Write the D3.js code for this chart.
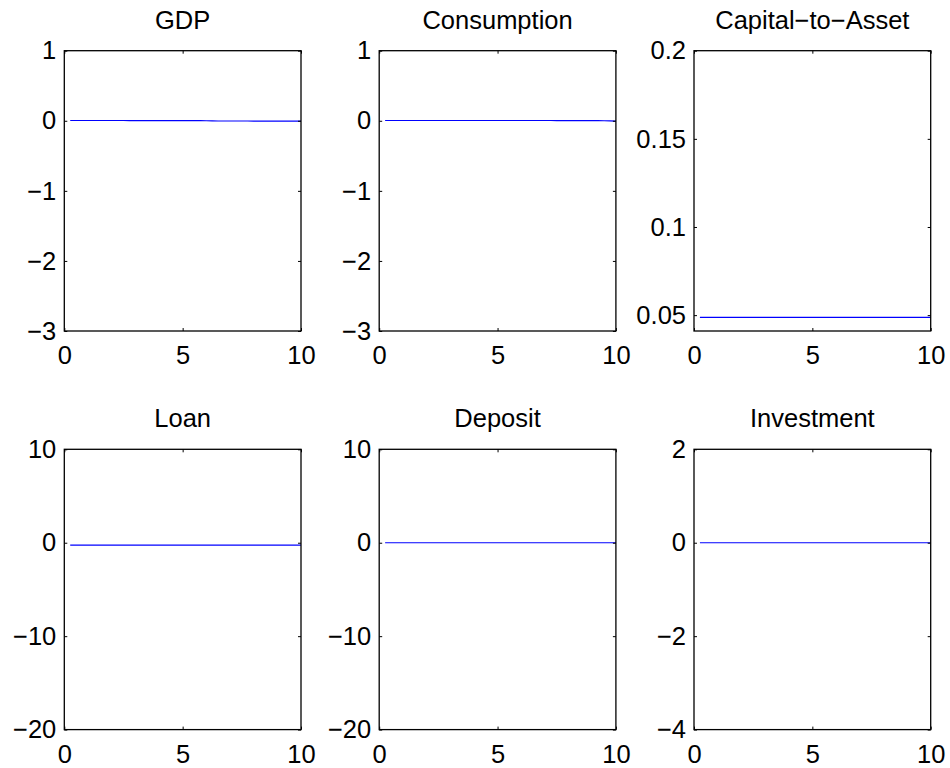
<!DOCTYPE html>
<html>
<head>
<meta charset="utf-8">
<script src="https://cdn.jsdelivr.net/npm/d3@7"></script>
<style>
html,body{margin:0;padding:0;background:#fff;}
svg{display:block;}
</style>
</head>
<body>
<svg id="chart" width="950" height="768"></svg>
<script>
// ---- data ----
const titles = ["GDP", "Consumption", "Capital\u2212to\u2212Asset", "Loan", "Deposit", "Investment"];
const periods = [0.25,0.5,0.75,1,1.25,1.5,1.75,2,2.25,2.5,2.75,3,3.25,3.5,3.75,4,4.25,4.5,4.75,5,
                 5.25,5.5,5.75,6,6.25,6.5,6.75,7,7.25,7.5,7.75,8,8.25,8.5,8.75,9,9.25,9.5,9.75,10];
const gdp = [0.004,0.004,0.004,0.004,0.004,0.004,0.004,0.004,0.004,0.004,0.003,0.003,0.003,0.003,0.003,0.003,0.003,0.003,0.002,0.002,
             0.002,0.002,0.001,0.0,-0.002,-0.003,-0.003,-0.003,-0.003,-0.003,-0.003,-0.004,-0.004,-0.004,-0.004,-0.004,-0.004,-0.004,-0.004,-0.005];
const consumption = [0.004,0.004,0.004,0.004,0.004,0.004,0.004,0.004,0.004,0.004,0.004,0.004,0.004,0.004,0.004,0.004,0.004,0.004,0.004,0.004,
             0.004,0.004,0.004,0.004,0.004,0.004,0.004,0.004,0.004,0.003,0.003,0.003,0.003,0.003,0.002,0.002,0.001,0.0,-0.002,-0.004];
const capitalToAsset = [0.0487,0.0487,0.0487,0.0487,0.0487,0.0487,0.0487,0.0487,0.0487,0.0487,0.0487,0.0487,0.0487,0.0487,0.0487,0.0487,0.0487,0.0487,0.0487,0.0487,
             0.0487,0.0487,0.0487,0.0487,0.0487,0.0487,0.0487,0.0487,0.0487,0.0487,0.0487,0.0487,0.0487,0.0487,0.0487,0.0487,0.0487,0.0487,0.0487,0.0487];
const loan = [-0.25,-0.25,-0.25,-0.25,-0.25,-0.25,-0.25,-0.25,-0.25,-0.25,-0.25,-0.25,-0.25,-0.25,-0.25,-0.25,-0.25,-0.25,-0.25,-0.25,
             -0.25,-0.25,-0.25,-0.25,-0.25,-0.25,-0.25,-0.25,-0.25,-0.25,-0.25,-0.25,-0.25,-0.25,-0.25,-0.25,-0.25,-0.25,-0.25,-0.25];
const deposit = [0,0,0,0,0,0,0,0,0,0,0,0,0,0,0,0,0,0,0,0,0,0,0,0,0,0,0,0,0,0,0,0,0,0,0,0,0,0,0,0];
const investment = [0,0,0,0,0,0,0,0,0,0,0,0,0,0,0,0,0,0,0,0,0,0,0,0,0,0,0,0,0,0,0,0,0,0,0,0,0,0,0,0];
const series = [gdp, consumption, capitalToAsset, loan, deposit, investment];
const yDomains = [[-3,1],[-3,1],[0.041,0.2],[-20,10],[-20,10],[-4,2]];
const yTicks = [[-3,-2,-1,0,1],[-3,-2,-1,0,1],[0.05,0.1,0.15,0.2],[-20,-10,0,10],[-20,-10,0,10],[-4,-2,0,2]];
const xDomain = [0,10];
const xTicks = [0,5,10];

// ---- layout ----
const svg = d3.select("#chart");
const colLeft = [64.3, 379.2, 694];
const rowTop = [50.7, 449.3];
const pw = 236.7, ph = 280.3;
const font = "'Liberation Sans', Arial, Helvetica, sans-serif";
const fs = 25.5;
const fmt = d => String(d).replace("-", "\u2212");

titles.forEach((t, i) => {
  const r = Math.floor(i / 3), c = i % 3;
  const g = svg.append("g").attr("transform", `translate(${colLeft[c]},${rowTop[r]})`);
  const x = d3.scaleLinear().domain(xDomain).range([0, pw]);
  const y = d3.scaleLinear().domain(yDomains[i]).range([ph, 0]);

  // line
  g.append("path")
    .datum(series[i].map((v, k) => [periods[k], v]))
    .attr("fill", "none")
    .attr("stroke", "#0000ff")
    .attr("stroke-width", 1.2)
    .attr("d", d3.line().x(d => x(d[0])).y(d => y(d[1])));

  // axes
  const styleAxis = sel => {
    sel.select(".domain").remove();
    sel.selectAll("line").attr("stroke", "#000").attr("stroke-width", 1);
    sel.selectAll("text").attr("fill", "#000").style("font-family", font).style("font-size", fs + "px");
  };
  g.append("g").attr("transform", `translate(0,${ph})`)
    .call(d3.axisBottom(x).tickValues(xTicks).tickSizeInner(-3).tickSizeOuter(0).tickPadding(15).tickFormat(fmt))
    .call(styleAxis);
  g.append("g")
    .call(d3.axisTop(x).tickValues(xTicks).tickSizeInner(-3).tickSizeOuter(0).tickFormat(""))
    .call(styleAxis);
  g.append("g")
    .call(d3.axisLeft(y).tickValues(yTicks[i]).tickSizeInner(-3).tickSizeOuter(0).tickPadding(8).tickFormat(fmt))
    .call(styleAxis);
  g.append("g").attr("transform", `translate(${pw},0)`)
    .call(d3.axisRight(y).tickValues(yTicks[i]).tickSizeInner(-3).tickSizeOuter(0).tickFormat(""))
    .call(styleAxis);

  // frame
  g.append("rect").attr("x", 0).attr("y", 0).attr("width", pw).attr("height", ph)
    .attr("fill", "none").attr("stroke", "#000").attr("stroke-width", 1.3);

  // title
  g.append("text").attr("x", pw / 2).attr("y", -22)
    .attr("text-anchor", "middle")
    .style("font-family", font).style("font-size", fs + "px")
    .text(t);
});
</script>
</body>
</html>
